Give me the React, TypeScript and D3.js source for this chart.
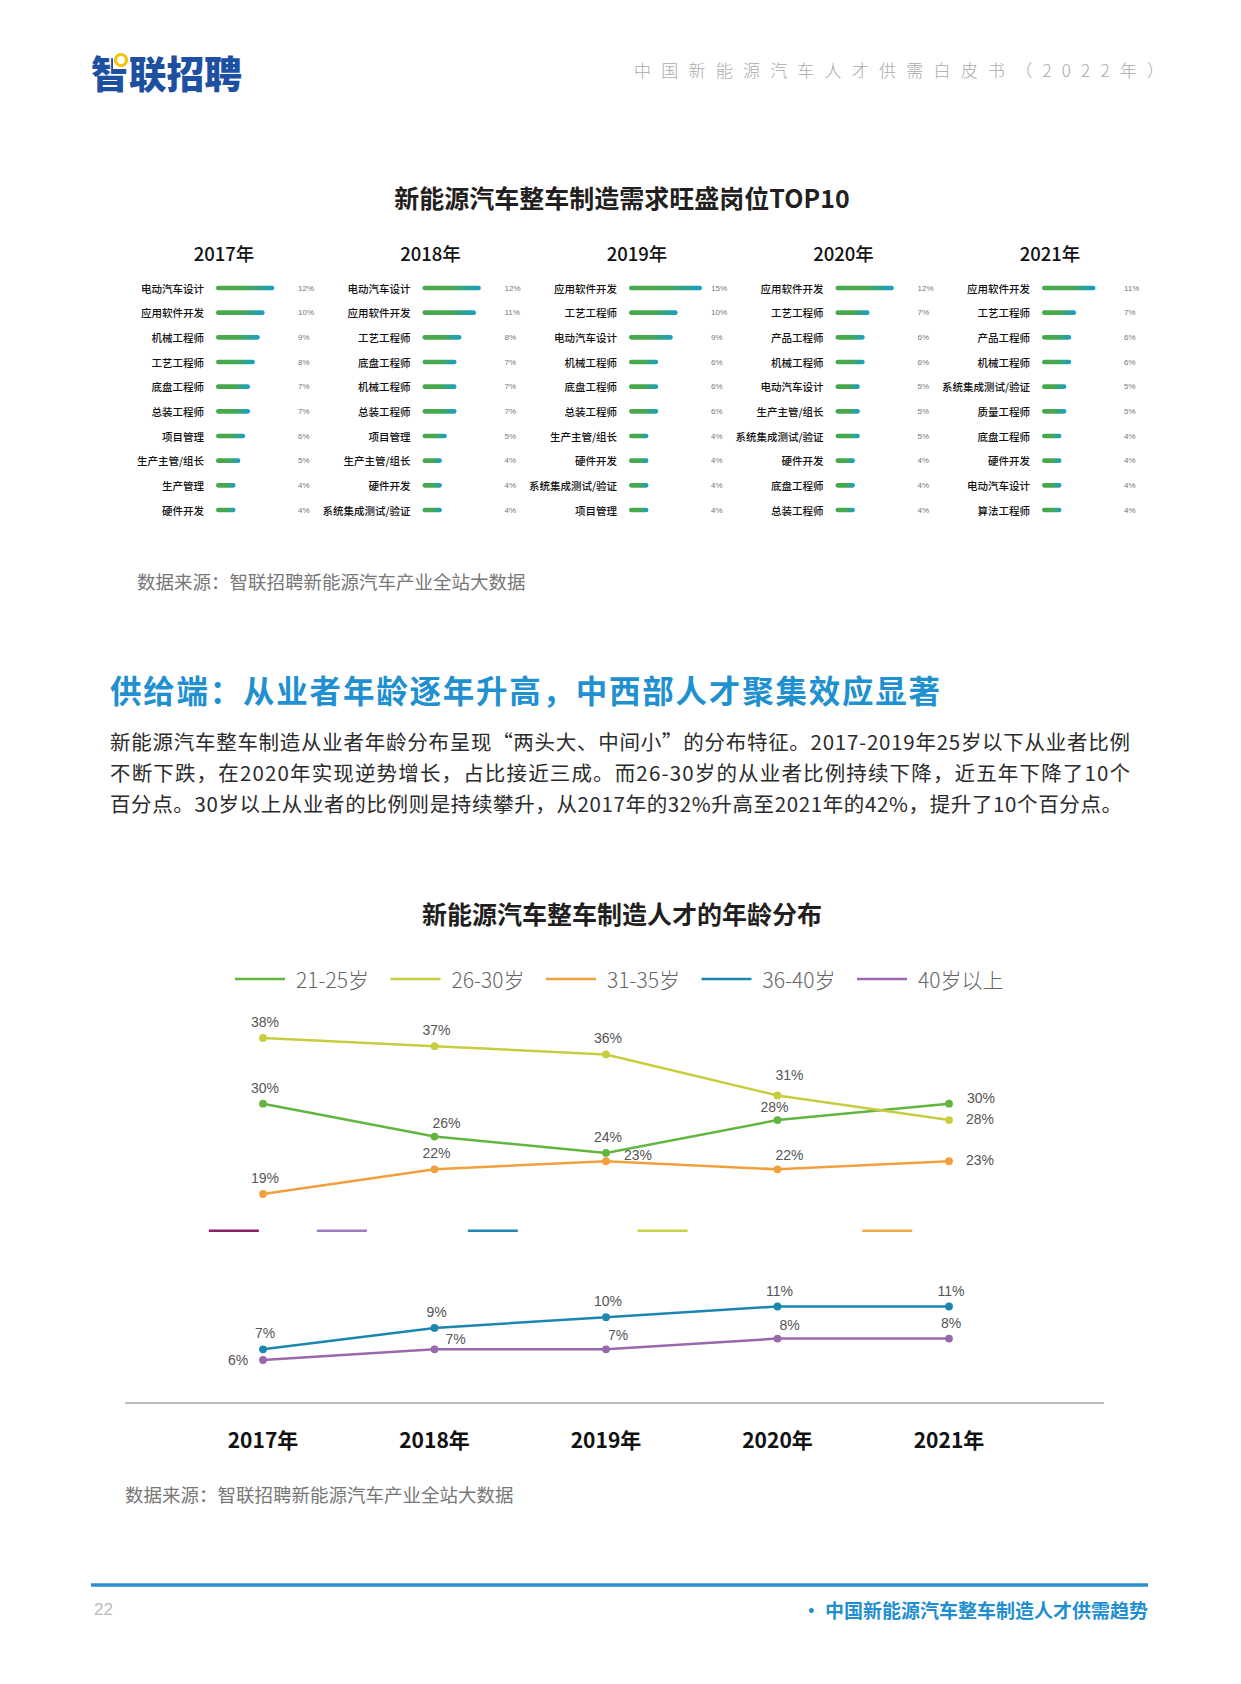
import * as d3 from 'd3';

// ---- top 10 job panels ----
const TOP_YEARS = ['2017年', '2018年', '2019年', '2020年', '2021年'];

const JOBS_2017 = ['电动汽车设计', '应用软件开发', '机械工程师', '工艺工程师', '底盘工程师', '总装工程师', '项目管理', '生产主管/组长', '生产管理', '硬件开发'];
const VALUES_2017 = [12, 10, 9, 8, 7, 7, 6, 5, 4, 4];

const JOBS_2018 = ['电动汽车设计', '应用软件开发', '工艺工程师', '底盘工程师', '机械工程师', '总装工程师', '项目管理', '生产主管/组长', '硬件开发', '系统集成测试/验证'];
const VALUES_2018 = [12, 11, 8, 7, 7, 7, 5, 4, 4, 4];

const JOBS_2019 = ['应用软件开发', '工艺工程师', '电动汽车设计', '机械工程师', '底盘工程师', '总装工程师', '生产主管/组长', '硬件开发', '系统集成测试/验证', '项目管理'];
const VALUES_2019 = [15, 10, 9, 6, 6, 6, 4, 4, 4, 4];

const JOBS_2020 = ['应用软件开发', '工艺工程师', '产品工程师', '机械工程师', '电动汽车设计', '生产主管/组长', '系统集成测试/验证', '硬件开发', '底盘工程师', '总装工程师'];
const VALUES_2020 = [12, 7, 6, 6, 5, 5, 5, 4, 4, 4];

const JOBS_2021 = ['应用软件开发', '工艺工程师', '产品工程师', '机械工程师', '系统集成测试/验证', '质量工程师', '底盘工程师', '硬件开发', '电动汽车设计', '算法工程师'];
const VALUES_2021 = [11, 7, 6, 6, 5, 5, 4, 4, 4, 4];

// ---- age distribution lines ----
const AGE_YEARS = ['2017年', '2018年', '2019年', '2020年', '2021年'];
const AGE_GROUPS = ['21-25岁', '26-30岁', '31-35岁', '36-40岁', '40岁以上'];
const AGE_21_25 = [30, 26, 24, 28, 30];
const AGE_26_30 = [38, 37, 36, 31, 28];
const AGE_31_35 = [19, 22, 23, 22, 23];
const AGE_36_40 = [7, 9, 10, 11, 11];
const AGE_40_UP = [6, 7, 7, 8, 8];

const AGE_COLORS = ['#62b53f', '#c8cd3f', '#f2a03d', '#1b87ae', '#9a69ac'];

// where each value label sits relative to its point
const PLACE: Record<string, [number, number]> = {
  top: [2, -16],
  topLow: [-3, -13],
  topHigh: [12, -20],
  topRight: [12, -14],
  topRightFar: [21, -10],
  right: [31, -1],
  rightUp: [32, -6],
  left: [-25, 0],
};
const LABEL_PLACES = [
  ['top', 'topRight', 'top', 'topLow', 'rightUp'],
  ['top', 'top', 'top', 'topHigh', 'right'],
  ['top', 'top', 'rightUp', 'topRight', 'right'],
  ['top', 'top', 'top', 'top', 'top'],
  ['left', 'topRightFar', 'topRight', 'topRight', 'top'],
];

// leftover short colour strokes sitting in the axis break (index position along x)
const GHOST_COLORS = ['#8a1f6e', '#a27cc0', '#1f8ab5', '#c9d245', '#f0a84a'];
const GHOST_AT = [-0.17, 0.46, 1.34, 2.33, 3.64];

const SOURCE = '数据来源：智联招聘新能源汽车产业全站大数据';
const PARAGRAPH = [
  '新能源汽车整车制造从业者年龄分布呈现“两头大、中间小”的分布特征。2017-2019年25岁以下从业者比例',
  '不断下跌，在2020年实现逆势增长，占比接近三成。而26-30岁的从业者比例持续下降，近五年下降了10个',
  '百分点。30岁以上从业者的比例则是持续攀升，从2017年的32%升高至2021年的42%，提升了10个百分点。',
];

const CJK = '"Noto Sans CJK SC", "Noto Sans", sans-serif';
const NUM = '"Liberation Sans", Arial, sans-serif';

const W = 1241;
const H = 1684;

export default function App() {
  const panels = [
    { jobs: JOBS_2017, values: VALUES_2017 },
    { jobs: JOBS_2018, values: VALUES_2018 },
    { jobs: JOBS_2019, values: VALUES_2019 },
    { jobs: JOBS_2020, values: VALUES_2020 },
    { jobs: JOBS_2021, values: VALUES_2021 },
  ];
  const panelX = d3.scalePoint<string>().domain(TOP_YEARS).range([216, 1042]);
  const rowY = d3.scalePoint<number>().domain(d3.range(10)).range([288, 510]);
  const barW = d3.scaleLinear().domain([0, 15]).range([0, 73]);

  const series = [AGE_21_25, AGE_26_30, AGE_31_35, AGE_36_40, AGE_40_UP];
  const xYear = d3.scalePoint<string>().domain(AGE_YEARS).range([263, 949]);
  const xIndex = d3.scaleLinear().domain([0, AGE_YEARS.length - 1]).range(xYear.range());
  // broken y axis: upper block for the big groups, lower block for the small ones
  const yUpper = d3.scaleLinear().domain([19, 38]).range([1194, 1038]);
  const yLower = d3.scaleLinear().domain([6, 11]).range([1360, 1306.5]);
  const yFor = (vals: number[]) => (d3.max(vals)! >= 15 ? yUpper : yLower);
  const legendX = d3.scalePoint<string>().domain(AGE_GROUPS).range([235, 857]);

  return (
    <svg width={W} height={H} style={{ position: 'absolute', left: 0, top: 0, background: '#fff' }}>
      <defs>
        <linearGradient id="barGrad" x1="0" x2="1" y1="0" y2="0">
          <stop offset="0" stopColor="#47a94c" />
          <stop offset="0.5" stopColor="#47a94c" />
          <stop offset="1" stopColor="#179fca" />
        </linearGradient>
      </defs>
      <rect width={W} height={H} fill="#fff" />

      {/* header */}
      <text x={91} y={71} fontFamily={CJK} fontSize={38} fontWeight={900} fill="#1e50a2"
        dominantBaseline="central" textLength={151} lengthAdjust="spacingAndGlyphs">智联招聘</text>
      <rect x={113} y={50} width={16} height={19} fill="#fff" />
      <circle cx={121} cy={60} r={5.5} fill="#fff" stroke="#f5c400" strokeWidth={3.2} />
      <text x={634} y={69} fontFamily={CJK} fontSize={17} fontWeight={300} fill="#aaaaaa"
        dominantBaseline="central" textLength={530} lengthAdjust="spacing">中国新能源汽车人才供需白皮书（2022年）</text>

      {/* top 10 chart */}
      <text x={622} y={197} textAnchor="middle" dominantBaseline="central" fontFamily={CJK}
        fontSize={25} fontWeight={700} fill="#231f20">新能源汽车整车制造需求旺盛岗位TOP10</text>
      {panels.map((p, pi) => {
        const x0 = panelX(TOP_YEARS[pi])!;
        return (
          <g key={TOP_YEARS[pi]}>
            <text x={x0 + 8} y={253} textAnchor="middle" dominantBaseline="central" fontFamily={CJK}
              fontSize={18.5} fontWeight={500} fill="#111">{TOP_YEARS[pi]}</text>
            {p.jobs.map((job, i) => (
              <g key={job}>
                <text x={x0 - 12} y={rowY(i)} textAnchor="end" dominantBaseline="central"
                  fontFamily={CJK} fontSize={10.5} fontWeight={500} fill="#111">{job}</text>
                <rect x={x0} y={rowY(i)! - 2.3} width={barW(p.values[i])} height={4.6} rx={2.3}
                  fill="url(#barGrad)" />
                <text x={x0 + 82} y={rowY(i)} dominantBaseline="central" fontFamily={NUM}
                  fontSize={8} fill="#777">{p.values[i]}%</text>
              </g>
            ))}
          </g>
        );
      })}
      <text x={137} y={581} dominantBaseline="central" fontFamily={CJK} fontSize={18.5} fill="#777">{SOURCE}</text>

      {/* section text */}
      <text x={110} y={689} dominantBaseline="central" fontFamily={CJK} fontSize={31.5} fontWeight={700}
        fill="#1f90d0" textLength={830} lengthAdjust="spacing">供给端：从业者年龄逐年升高，中西部人才聚集效应显著</text>
      {PARAGRAPH.map((line, i) => (
        <text key={i} x={110} y={741 + i * 30.8} dominantBaseline="central" fontFamily={CJK} fontSize={20.5}
          fill="#2b2b2b" textLength={i === 2 ? 1012 : 1020} lengthAdjust="spacing">{line}</text>
      ))}

      {/* age chart */}
      <text x={622} y={913} textAnchor="middle" dominantBaseline="central" fontFamily={CJK}
        fontSize={25} fontWeight={700} fill="#231f20">新能源汽车整车制造人才的年龄分布</text>
      {AGE_GROUPS.map((g, i) => {
        const lx = legendX(g)!;
        return (
          <g key={g}>
            <line x1={lx} x2={lx + 50} y1={979} y2={979} stroke={AGE_COLORS[i]} strokeWidth={2.5} />
            <text x={lx + 61} y={979} dominantBaseline="central" fontFamily={CJK} fontSize={21}
              fontWeight={300} fill="#666">{g}</text>
          </g>
        );
      })}

      {GHOST_AT.map((at, i) => (
        <line key={i} x1={xIndex(at) - 25} x2={xIndex(at) + 25} y1={1230.7} y2={1230.7}
          stroke={GHOST_COLORS[i]} strokeWidth={2.5} />
      ))}

      {series.map((vals, si) => {
        const y = yFor(vals);
        const line = d3.line<number>()
          .x((_, i) => xYear(AGE_YEARS[i])!)
          .y(v => y(v));
        return (
          <g key={AGE_GROUPS[si]}>
            <path d={line(vals)!} fill="none" stroke={AGE_COLORS[si]} strokeWidth={2.5} />
            {vals.map((v, i) => {
              const cx = xYear(AGE_YEARS[i])!;
              const cy = y(v);
              const [dx, dy] = PLACE[LABEL_PLACES[si][i]];
              return (
                <g key={i}>
                  <circle cx={cx} cy={cy} r={3.9} fill={AGE_COLORS[si]} />
                  <text x={cx + dx} y={cy + dy} textAnchor="middle" dominantBaseline="central"
                    fontFamily={NUM} fontSize={14} fill="#555">{v}%</text>
                </g>
              );
            })}
          </g>
        );
      })}

      <line x1={125} x2={1104} y1={1403} y2={1403} stroke="#a8a8a8" strokeWidth={1.5} />
      {AGE_YEARS.map(yr => (
        <text key={yr} x={xYear(yr)} y={1439} textAnchor="middle" dominantBaseline="central"
          fontFamily={CJK} fontSize={21} fontWeight={700} fill="#111">{yr}</text>
      ))}
      <text x={125} y={1494} dominantBaseline="central" fontFamily={CJK} fontSize={18.5} fill="#777">{SOURCE}</text>

      {/* footer */}
      <line x1={91} x2={1148} y1={1585} y2={1585} stroke="#2a8fcf" strokeWidth={3.5} />
      <text x={94} y={1609} dominantBaseline="central" fontFamily={NUM} fontSize={17} fill="#bbb">22</text>
      <text x={1148} y={1609} textAnchor="end" dominantBaseline="central" fontFamily={CJK} fontSize={19}
        fontWeight={700} fill="#1f8fd0">· 中国新能源汽车整车制造人才供需趋势</text>
    </svg>
  );
}
